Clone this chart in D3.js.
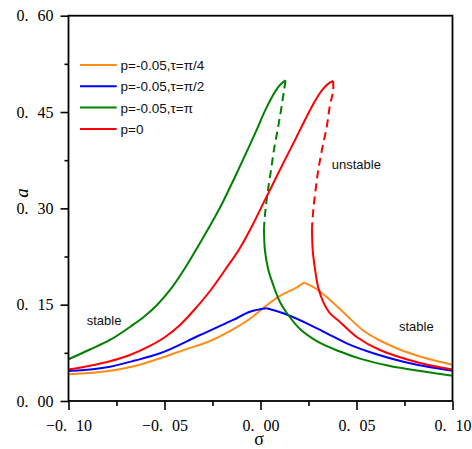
<!DOCTYPE html>
<html>
<head>
<meta charset="utf-8">
<script src="https://cdn.jsdelivr.net/npm/d3@7/dist/d3.min.js"></script>
<style>
  html, body { margin: 0; padding: 0; background: #fff; }
  svg { display: block; }
</style>
</head>
<body>
<svg id="chart" width="472" height="449"></svg>
<script>
// Frequency-response curves: amplitude a versus detuning σ
const xTicks = [-0.10, -0.05, 0.00, 0.05, 0.10];
const xMinorTicks = [-0.075, -0.025, 0.025, 0.075];
const yTicks = [0.00, 0.15, 0.30, 0.45, 0.60];
const yMinorTicks = [0.075, 0.225, 0.375, 0.525];

const seriesLabels = ["p=-0.05,τ=π/4", "p=-0.05,τ=π/2", "p=-0.05,τ=π", "p=0"];
const seriesColors = ["#ff8c1a", "#0000ff", "#008000", "#ff0000"];

// p=-0.05, τ=π/4 (two stable branches meeting at a cusp)
const orangeLeft = [[-0.100, 0.0416], [-0.0784, 0.0470], [-0.0654, 0.0545], [-0.0523, 0.0665],
  [-0.0393, 0.0800], [-0.0263, 0.0935], [-0.0159, 0.1090], [-0.0055, 0.1280], [0.0015, 0.1450],
  [0.0097, 0.1630], [0.0189, 0.1770], [0.0227, 0.1843]];
const orangeRight = [[0.0227, 0.1843], [0.0293, 0.1740], [0.0362, 0.1573], [0.0449, 0.1331],
  [0.0535, 0.1097], [0.0622, 0.0942], [0.0709, 0.0822], [0.0814, 0.0709], [0.100, 0.0564]];

// p=-0.05, τ=π/2
const blueLeft = [[-0.100, 0.0467], [-0.0784, 0.0534], [-0.0654, 0.0630], [-0.0523, 0.0743],
  [-0.0315, 0.1028], [-0.0142, 0.1262], [-0.0055, 0.1390], [0.0032, 0.1444]];
const blueRight = [[0.0032, 0.1444], [0.0119, 0.1366], [0.0241, 0.1210], [0.0345, 0.1054],
  [0.0449, 0.0898], [0.0588, 0.0743], [0.0744, 0.0612], [0.100, 0.0472]];

// p=-0.05, τ=π : upper stable, unstable (dashed), lower stable
const greenUpper = [[-0.100, 0.0650], [-0.0888, 0.0802], [-0.0784, 0.0950], [-0.0680, 0.1153],
  [-0.0602, 0.1324], [-0.0539, 0.1495], [-0.0471, 0.1729], [-0.0393, 0.2072], [-0.0315, 0.2461],
  [-0.0258, 0.2757], [-0.0201, 0.3069], [-0.0133, 0.3489], [-0.0065, 0.3925], [-0.0013, 0.4268],
  [0.0023, 0.4517], [0.0060, 0.4735], [0.0091, 0.4883], [0.0112, 0.4953], [0.0130, 0.4992]];
const greenUnstable = [[0.0130, 0.4992], [0.0123, 0.4844], [0.0107, 0.4533], [0.0089, 0.4220],
  [0.0070, 0.3910], [0.0055, 0.3600], [0.0039, 0.3287], [0.0026, 0.2975], [0.0018, 0.2695]];
const greenLower = [[0.0018, 0.2695], [0.0023, 0.2350], [0.0040, 0.2050], [0.0067, 0.1800],
  [0.0100, 0.1550], [0.0137, 0.1370], [0.0206, 0.1120], [0.0300, 0.0920], [0.0414, 0.0770],
  [0.0518, 0.0660], [0.0674, 0.0545], [0.0850, 0.0460], [0.100, 0.0394]];

// p=0 : upper stable, unstable (dashed), lower stable
const redUpper = [[-0.100, 0.0490], [-0.0888, 0.0550], [-0.0784, 0.0620], [-0.0680, 0.0717],
  [-0.0576, 0.0857], [-0.0497, 0.0997], [-0.0419, 0.1184], [-0.0341, 0.1433], [-0.0263, 0.1713],
  [-0.0185, 0.2040], [-0.0107, 0.2383], [-0.0044, 0.2726], [0.0013, 0.3069], [0.0070, 0.3411],
  [0.0122, 0.3723], [0.0180, 0.4065], [0.0237, 0.4408], [0.0284, 0.4673], [0.0326, 0.4860],
  [0.0352, 0.4938], [0.0378, 0.4984]];
const redUnstable = [[0.0378, 0.4984], [0.0379, 0.4840], [0.0362, 0.4610], [0.0345, 0.4270],
  [0.0320, 0.3910], [0.0301, 0.3600], [0.0287, 0.3290], [0.0275, 0.2975], [0.0268, 0.2695]];
const redLower = [[0.0268, 0.2695], [0.0272, 0.2350], [0.0284, 0.2050], [0.0300, 0.1775],
  [0.0330, 0.1520], [0.0362, 0.1366], [0.0414, 0.1230], [0.0501, 0.0997], [0.0622, 0.0794],
  [0.0831, 0.0592], [0.100, 0.0490]];

const monoX = d3.curveMonotoneX;
const smooth = d3.curveCatmullRom.alpha(0.5);
const branches = [
  { pts: orangeLeft, color: seriesColors[0], dashed: false, curve: monoX },
  { pts: orangeRight, color: seriesColors[0], dashed: false, curve: monoX },
  { pts: blueLeft, color: seriesColors[1], dashed: false, curve: monoX },
  { pts: blueRight, color: seriesColors[1], dashed: false, curve: monoX },
  { pts: greenUpper, color: seriesColors[2], dashed: false, curve: monoX },
  { pts: greenUnstable, color: seriesColors[2], dashed: true, curve: smooth },
  { pts: greenLower, color: seriesColors[2], dashed: false, curve: smooth },
  { pts: redUpper, color: seriesColors[3], dashed: false, curve: monoX },
  { pts: redUnstable, color: seriesColors[3], dashed: true, curve: smooth },
  { pts: redLower, color: seriesColors[3], dashed: false, curve: smooth }
];

const annotations = [
  { text: "stable", x: -0.0905, y: 0.126 },
  { text: "stable", x: 0.0721, y: 0.1157 },
  { text: "unstable", x: 0.0371, y: 0.3676 }
];

const svg = d3.select("#chart");
const plotLeft = 68.5, plotRight = 452.5, plotTop = 15.7, plotBottom = 401;

const x = d3.scaleLinear().domain([-0.10, 0.10]).range([plotLeft, plotRight]);
const y = d3.scaleLinear().domain([0, 0.60]).range([plotBottom, plotTop]);

const fmt = d3.format(".2f");
const tickFont = "'Liberation Serif', 'DejaVu Serif', serif";
const decimalGap = 9;

// curves (drawn first, frame goes over them)
const plot = svg.append("g");
plot.selectAll("path.curve")
  .data(branches)
  .join("path")
  .attr("class", "curve")
  .attr("d", d => d3.line().x(p => x(p[0])).y(p => y(p[1])).curve(d.curve)(d.pts))
  .attr("fill", "none")
  .attr("stroke", d => d.color)
  .attr("stroke-width", 2)
  .attr("stroke-dasharray", d => d.dashed ? "8,5" : null);

// per-character shift: a wide gap after the decimal point
function gapShifts(s) {
  const i = s.indexOf(".");
  return Array.from(s, (c, k) => (k === i + 1 ? decimalGap : 0)).join(" ");
}

// y axis
const yAxis = svg.append("g")
  .attr("transform", `translate(${plotLeft},0)`)
  .call(d3.axisLeft(y).tickValues(yTicks).tickSize(8).tickPadding(7).tickFormat(fmt));
svg.append("g")
  .attr("transform", `translate(${plotLeft},0)`)
  .call(d3.axisLeft(y).tickValues(yMinorTicks).tickSize(4).tickFormat(""));

// x axis
const xAxis = svg.append("g")
  .attr("transform", `translate(0,${plotBottom})`)
  .call(d3.axisBottom(x).tickValues(xTicks).tickSize(9).tickPadding(10).tickFormat(fmt));
svg.append("g")
  .attr("transform", `translate(0,${plotBottom})`)
  .call(d3.axisBottom(x).tickValues(xMinorTicks).tickSize(5).tickFormat(""));

svg.selectAll(".domain").remove();
svg.selectAll(".tick line").attr("stroke", "#000").attr("stroke-width", 1.6);
svg.selectAll(".tick text")
  .attr("fill", "#000")
  .attr("dx", function () { return gapShifts(d3.select(this).text()); })
  .style("font-family", tickFont)
  .style("font-size", "16px");

// frame
svg.append("rect")
  .attr("x", plotLeft).attr("y", plotTop)
  .attr("width", plotRight - plotLeft).attr("height", plotBottom - plotTop)
  .attr("fill", "none")
  .attr("stroke", "#000")
  .attr("stroke-width", 1.8);

// axis titles
svg.append("text")
  .attr("transform", "translate(28,193) rotate(-90)")
  .attr("text-anchor", "middle")
  .style("font-family", tickFont)
  .style("font-style", "italic")
  .style("font-size", "19px")
  .text("a");

svg.append("text")
  .attr("x", 259).attr("y", 445)
  .attr("text-anchor", "middle")
  .style("font-family", tickFont)
  .style("font-size", "18px")
  .text("σ");

// legend
const legend = svg.append("g");
const legendY = d3.scaleLinear().domain([0, 1]).range([65, 86.3]);
seriesLabels.forEach((label, i) => {
  legend.append("line")
    .attr("x1", 80).attr("x2", 116.7)
    .attr("y1", legendY(i)).attr("y2", legendY(i))
    .attr("stroke", seriesColors[i])
    .attr("stroke-width", 2);
  legend.append("text")
    .attr("x", 120.5).attr("y", legendY(i) + 5)
    .style("font-family", "'Liberation Sans', Arial, sans-serif")
    .style("font-size", "13.5px")
    .attr("fill", "#111")
    .text(label);
});

// region annotations
svg.selectAll("text.note")
  .data(annotations)
  .join("text")
  .attr("class", "note")
  .attr("x", d => x(d.x))
  .attr("y", d => y(d.y) + 4.5)
  .style("font-family", "'Liberation Sans', Arial, sans-serif")
  .style("font-size", "13px")
  .attr("fill", "#111")
  .text(d => d.text);
</script>
</body>
</html>
